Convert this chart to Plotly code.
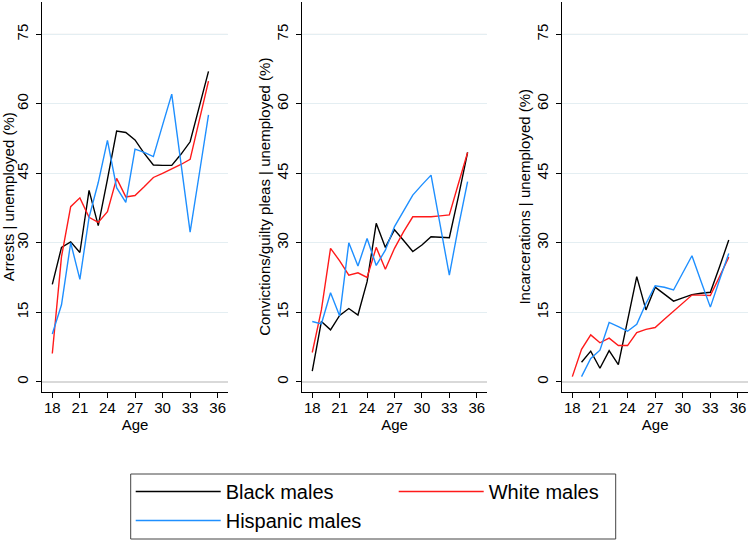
import plotly.graph_objects as go
from plotly.subplots import make_subplots

ages = list(range(18, 36))

# Panel 1: Arrests | unemployed (%)
arrests_black = [21.0, 29.0, 30.2, 27.9, 41.3, 33.7, 43.7, 54.1, 53.8, 52.2, 49.3, 46.8, 46.7, 46.7, 49.1, 51.8, 59.4, 67.0]
arrests_white = [6.1, 27.0, 37.8, 39.7, 35.5, 34.4, 36.7, 43.9, 39.9, 40.2, 42.1, 44.1, 45.0, 45.9, 46.9, 48.0, 56.5, 64.9]
arrests_hisp = [10.3, 16.6, 30.0, 22.1, 35.5, 43.0, 52.1, 41.9, 38.7, 50.2, 49.5, 48.6, 55.4, 62.1, 47.2, 32.3, 44.9, 57.6]

# Panel 2: Convictions/guilty pleas | unemployed (%)
conv_black = [2.3, 13.0, 11.2, 14.3, 15.8, 14.4, 21.6, 34.2, 29.0, 32.8, 30.5, 28.1, 29.5, 31.3, 31.2, 31.1, 40.0, 49.5]
conv_white = [6.3, 15.5, 28.8, 26.1, 23.0, 23.5, 22.5, 29.0, 24.3, 28.8, 32.4, 35.6, 35.6, 35.6, 35.8, 36.0, 42.8, 49.5]
conv_hisp = [13.0, 12.5, 19.2, 14.2, 30.0, 25.0, 30.9, 25.1, 28.4, 33.5, 36.9, 40.3, 42.5, 44.6, 33.8, 23.0, 33.5, 43.2]

# Panel 3: Incarcerations | unemployed (%)
inc_black = [None, 4.2, 6.6, 2.9, 6.7, 3.7, 13.3, 22.7, 15.5, 20.4, 18.9, 17.4, 18.1, 18.8, 19.1, 19.3, 24.8, 30.6]
inc_white = [1.1, 7.0, 10.1, 8.4, 9.4, 7.8, 7.8, 10.6, 11.3, 11.7, 13.5, 15.3, 17.1, 18.7, 18.7, 18.6, 22.7, 26.9]
inc_hisp = [None, 1.1, 5.0, 6.8, 12.8, 11.9, 10.9, 12.4, 16.9, 20.7, 20.4, 19.8, 23.5, 27.2, 21.6, 16.1, 22.0, 27.7]

y_titles = ["Arrests | unemployed (%)",
            "Convictions/guilty pleas | unemployed (%)",
            "Incarcerations | unemployed (%)"]
series_names = ["Black males", "White males", "Hispanic males"]
colors = ["#000000", "#ff1a1a", "#1e8fff"]
x_ticks = [18, 21, 24, 27, 30, 33, 36]
y_ticks = [0, 15, 30, 45, 60, 75]

panels = [
    [arrests_black, arrests_white, arrests_hisp],
    [conv_black, conv_white, conv_hisp],
    [inc_black, inc_white, inc_hisp],
]

FONT = "Liberation Sans, Arial, Helvetica, sans-serif"
W, H = 750, 542

fig = make_subplots(rows=1, cols=3)

for c, series in enumerate(panels, start=1):
    for name, vals, col in zip(series_names, series, colors):
        fig.add_trace(go.Scatter(
            x=ages, y=vals, mode="lines", name=name,
            line=dict(color=col, width=1.4),
            showlegend=(c == 1), legendgroup=name,
            connectgaps=False, hoverinfo="skip",
        ), row=1, col=c)

x_domains = [(42.3, 227.7), (302.3, 486.7), (562.3, 748.0)]
y_dom = [(H - 391.7) / H, (H - 1.7) / H]

for i, (x0, x1) in enumerate(x_domains):
    sfx = "" if i == 0 else str(i + 1)
    fig.layout["xaxis" + sfx].update(
        domain=[x0 / W, x1 / W], range=[16.91, 37.09], automargin=False,
        tickvals=x_ticks, ticks="outside", ticklen=5, tickcolor="black",
        ticklabelstandoff=-3,
        showline=True, linecolor="black", linewidth=1,
        showgrid=False, zeroline=False,
        tickfont=dict(size=15, color="black", family=FONT),
        title=dict(text="Age", font=dict(size=15, color="black", family=FONT), standoff=0),
    )
    fig.layout["yaxis" + sfx].update(
        domain=y_dom, range=[-2.16, 82.05], automargin=False,
        tickvals=y_ticks, ticks="outside", ticklen=5, tickcolor="black",
        tickangle=-90, ticklabelstandoff=2,
        showline=True, linecolor="black", linewidth=1,
        showgrid=True, gridcolor="#e4eef2", gridwidth=1,
        zeroline=True, zerolinecolor="#d9d9d9", zerolinewidth=2,
        tickfont=dict(size=15, color="black", family=FONT),
        title=dict(text=y_titles[i], font=dict(size=15, color="black", family=FONT), standoff=0),
    )
    # top gridline at 75 in plain gray
    fig.add_hline(y=75, line=dict(color="#d4d4d4", width=1), row=1, col=i + 1, layer="below")

# frame around the legend (sized like the reference's legend box)
legend_box = dict(x0=130.7, x1=615.7, y0=474.0, y1=539.0)
fig.add_shape(
    type="rect", xref="paper", yref="paper",
    x0=legend_box["x0"] / W, x1=legend_box["x1"] / W,
    y0=(H - legend_box["y1"]) / H, y1=(H - legend_box["y0"]) / H,
    line=dict(color="#444444", width=1), fillcolor="rgba(0,0,0,0)", layer="above",
)

fig.update_layout(
    width=W, height=H,
    margin=dict(l=0, r=0, t=0, b=0, autoexpand=False),
    paper_bgcolor="white", plot_bgcolor="white",
    font=dict(family=FONT, color="black"),
    hovermode=False,
    legend=dict(
        orientation="h", x=130.7 / W, y=(H - 472) / H, xanchor="left", yanchor="top",
        borderwidth=0, bgcolor="rgba(0,0,0,0)",
        font=dict(size=20, color="black", family=FONT),
        itemwidth=85, entrywidth=163, entrywidthmode="pixels", traceorder="normal",
    ),
)

fig.write_html("out.html", config={"displayModeBar": False, "staticPlot": True},
               post_script="document.body.style.margin='0px';document.body.style.overflow='hidden';")
